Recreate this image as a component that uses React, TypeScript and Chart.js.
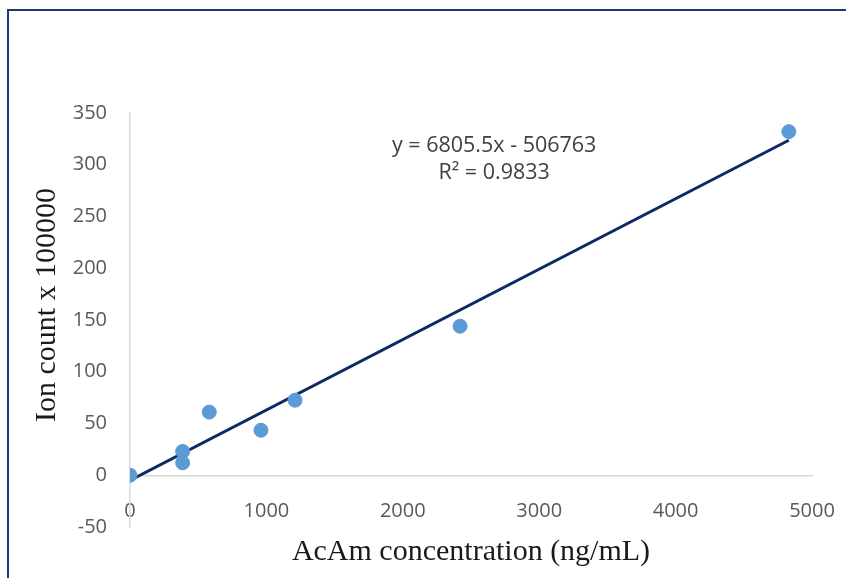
import React, { useEffect, useRef } from "react";
import { Chart, registerables } from "chart.js";

Chart.register(...registerables);

const concentrations = [0, 386, 386, 581, 960, 1210, 2420, 4830];
const ionCounts = [0, 23, 12, 61, 43.5, 72.5, 144, 332];
const slope = 6805.5 / 100000;
const intercept = -506763 / 100000;
const trendX = [0, 4830];
const xTicks = [0, 1000, 2000, 3000, 4000, 5000];
const yTicks = [-50, 0, 50, 100, 150, 200, 250, 300, 350];
const equationLines = ["y = 6805.5x - 506763", "R² = 0.9833"];
const equationAnchor = { x: 2670, y: 318 };

const tickFont = { family: "'Open Sans', 'Noto Sans', sans-serif", size: 20 };
const titleFont = { family: "'Liberation Serif', 'Times New Roman', serif", size: 30 };

const equationPlugin = {
  id: "equation",
  afterDraw(chart: any) {
    const { ctx, scales } = chart;
    const px = scales.x.getPixelForValue(equationAnchor.x);
    const py = scales.y.getPixelForValue(equationAnchor.y);
    ctx.save();
    ctx.font = "21.5px 'Open Sans', 'Noto Sans', sans-serif";
    ctx.fillStyle = "#404040";
    ctx.textAlign = "center";
    ctx.textBaseline = "middle";
    equationLines.forEach((t, i) => ctx.fillText(t, px, py + i * 27));
    ctx.restore();
  },
};

export default function App() {
  const ref = useRef<HTMLCanvasElement | null>(null);
  useEffect(() => {
    if (!ref.current) return;
    const chart = new Chart(ref.current, {
      type: "scatter",
      data: {
        datasets: [
          {
            type: "line",
            label: "Trend",
            data: trendX.map((x) => ({ x, y: slope * x + intercept })),
            borderColor: "#0B2A66",
            borderWidth: 3,
            pointRadius: 0,
            fill: false,
            order: 2,
          } as any,
          {
            label: "Ion count",
            data: concentrations.map((x, i) => ({ x, y: ionCounts[i] })),
            backgroundColor: "#5B9BD5",
            borderColor: "#5B9BD5",
            pointRadius: 7,
            order: 1,
          },
        ],
      },
      options: {
        animation: false,
        responsive: true,
        maintainAspectRatio: false,
        layout: { padding: { left: 25, right: 34, top: 113, bottom: 51 } },
        plugins: { legend: { display: false }, tooltip: { enabled: false } },
        scales: {
          x: {
            type: "linear",
            position: { y: 0 } as any,
            min: 0,
            max: 5000,
            afterBuildTicks: (s: any) => {
              s.ticks = xTicks.map((v) => ({ value: v }));
            },
            afterFit: (s: any) => {
              s.height = 99;
              s.paddingLeft = 0;
              s.paddingRight = 0;
            },
            grid: { display: false, drawTicks: false },
            border: { display: true, color: "#D9D9D9", width: 1.5 },
            ticks: {
              font: tickFont,
              color: "#595959",
              padding: 24,
              maxRotation: 0,
              autoSkip: false,
              callback: (v: any) => String(v),
            },
            title: {
              display: true,
              text: "AcAm concentration (ng/mL)",
              font: titleFont,
              color: "#1a1a1a",
              padding: { top: 0, bottom: 4 },
            },
          },
          y: {
            type: "linear",
            min: -50,
            max: 350,
            afterBuildTicks: (s: any) => {
              s.ticks = yTicks.map((v) => ({ value: v }));
            },
            afterFit: (s: any) => {
              s.width = 105;
            },
            grid: { display: false, drawTicks: false },
            border: { display: true, color: "#D9D9D9", width: 1.5 },
            ticks: { font: tickFont, color: "#595959", padding: 23, callback: (v: any) => String(v) },
            title: {
              display: true,
              text: "    Ion count x 100000",
              font: titleFont,
              color: "#1a1a1a",
              padding: { top: 4, bottom: 0 },
            },
          },
        },
      },
      plugins: [equationPlugin],
    });
    return () => chart.destroy();
  }, []);

  return (
    <div style={{ position: "fixed", left: 0, top: 0, width: 846, height: 578, background: "#fff" }}>
      <div
        style={{
          position: "absolute",
          left: 7,
          top: 9,
          right: -10,
          bottom: -10,
          borderLeft: "2px solid #1F3A70",
          borderTop: "2px solid #1F3A70",
        }}
      />
      <canvas ref={ref} style={{ position: "absolute", left: 0, top: 0 }} />
    </div>
  );
}
